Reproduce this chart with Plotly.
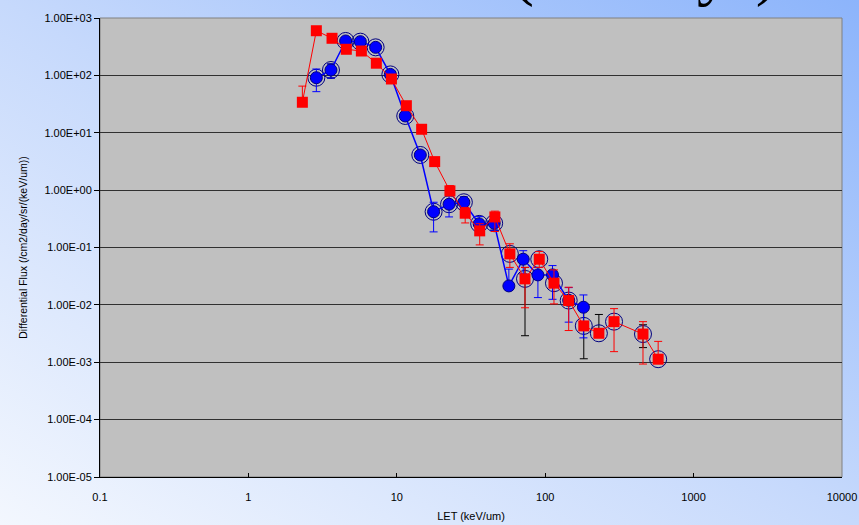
import base64
import plotly.graph_objects as go

# ---------------- data ----------------
red_x = [2.31, 2.87, 3.66, 4.57, 5.77, 7.28, 9.2, 11.6, 14.7, 18.0, 22.8, 28.9, 36.2, 45.8,
         57.8, 73.1, 91.2, 114.6, 144, 182, 230, 291, 456, 577]
red_y = [34, 600, 443, 285, 266, 163, 86.5, 29.6, 11.5, 3.14, 0.97, 0.396, 0.195, 0.341,
         0.0774, 0.0284, 0.0625, 0.0239, 0.0119, 0.0043, 0.0032, 0.0051, 0.0031, 0.00113]
red_hi = [65, 600, 443, 285, 266, 163, 86.5, 29.6, 11.5, 3.14, 1.2, 0.5, 0.26, 0.43,
          0.116, 0.045, 0.085, 0.0407, 0.0203, 0.0043, 0.0032, 0.0086, 0.0051, 0.00231]
red_lo = [34, 600, 443, 285, 266, 163, 86.5, 29.6, 11.5, 3.14, 0.8, 0.268, 0.111, 0.19,
          0.045, 0.0089, 0.045, 0.0104, 0.00357, 0.0043, 0.0032, 0.00153, 0.00093, 0.00098]

blue_x = [2.87, 3.6, 4.52, 5.68, 7.2, 9.05, 11.4, 14.4, 17.7, 22.5, 28.3, 35.9, 45.3,
          56.9, 71.1, 89.3, 112, 144, 181]
blue_y = [91, 124, 398, 387, 308, 104, 19.6, 4.1, 0.42, 0.568, 0.615, 0.258, 0.265,
          0.0214, 0.0625, 0.0333, 0.0333, 0.012, 0.0091]
blue_hi = [129, 158, 398, 387, 308, 104, 19.6, 4.1, 0.615, 0.82, 0.77, 0.345, 0.34,
           0.042, 0.088, 0.045, 0.0484, 0.02, 0.0149]
blue_lo = [52, 90, 398, 387, 308, 104, 19.6, 4.1, 0.187, 0.341, 0.5, 0.2, 0.2,
           0.0214, 0.0347, 0.0134, 0.0125, 0.005, 0.00266]

open_x = [2.87, 3.6, 4.52, 5.68, 7.2, 9.05, 11.4, 14.4, 17.7, 22.5, 28.3, 35.9, 45.3,
          57.8, 73.1, 91.2, 114.6, 144, 182, 230, 291, 456, 577]
open_y = [91, 124, 398, 387, 308, 104, 19.6, 4.1, 0.42, 0.568, 0.615, 0.258, 0.265,
          0.0774, 0.0284, 0.0625, 0.0239, 0.0119, 0.0043, 0.0032, 0.0051, 0.0031, 0.00113]
open_hi = [91, 158, 398, 387, 308, 104, 19.6, 4.1, 0.42, 0.568, 0.615, 0.3, 0.3,
           0.0774, 0.045, 0.0625, 0.0239, 0.0119, 0.0091, 0.0068, 0.0051, 0.0045, 0.00113]
open_lo = [91, 90, 398, 387, 308, 104, 19.6, 4.1, 0.42, 0.568, 0.615, 0.2, 0.2,
           0.0774, 0.0029, 0.0625, 0.0239, 0.0119, 0.00115, 0.0032, 0.0051, 0.0018, 0.00113]

y_tickvals = [1e-5, 1e-4, 1e-3, 1e-2, 1e-1, 1e0, 1e1, 1e2, 1e3]
y_ticktext = ["1.00E-05", "1.00E-04", "1.00E-03", "1.00E-02", "1.00E-01",
              "1.00E+00", "1.00E+01", "1.00E+02", "1.00E+03"]
x_tickvals = [0.1, 1, 10, 100, 1000, 10000]
x_ticktext = ["0.1", "1", "10", "100", "1000", "10000"]

title_text = "(All days)"
x_title = "LET (keV/um)"
y_title = "Differential Flux (/cm2/day/sr/(keV/um))"


def plus(y, hi):
    return [h - v for v, h in zip(y, hi)]


def minus(y, lo):
    return [v - l for v, l in zip(y, lo)]


W, H = 859, 525
L, R, T, B = 100, 17, 18, 48
pw, ph = W - L - R, H - T - B

svg = ("<svg xmlns='http://www.w3.org/2000/svg' width='859' height='525'>"
       "<defs><linearGradient id='g' x1='0' y1='1' x2='1' y2='0'>"
       "<stop offset='0' stop-color='#f3f7fe'/><stop offset='0.5' stop-color='#c6d9fc'/>"
       "<stop offset='1' stop-color='#8cb4fb'/></linearGradient></defs>"
       "<rect width='859' height='525' fill='url(#g)'/></svg>")
src = "data:image/svg+xml;base64," + base64.b64encode(svg.encode()).decode()

fig = go.Figure()

fig.add_trace(go.Scatter(
    x=open_x, y=open_y, mode="markers",
    marker=dict(symbol="circle-open", size=17, color="#000080", line=dict(width=1, color="#000080")),
    error_y=dict(type="data", symmetric=False, array=plus(open_y, open_hi),
                 arrayminus=minus(open_y, open_lo), color="black", thickness=1, width=4),
    showlegend=False))

fig.add_trace(go.Scatter(
    x=blue_x, y=blue_y, mode="lines+markers",
    line=dict(color="#0000FF", width=1.5),
    marker=dict(symbol="circle", size=12, color="#0000FF", line=dict(width=1, color="#000080")),
    error_y=dict(type="data", symmetric=False, array=plus(blue_y, blue_hi),
                 arrayminus=minus(blue_y, blue_lo), color="#0000FF", thickness=1, width=4),
    showlegend=False))

fig.add_trace(go.Scatter(
    x=red_x, y=red_y, mode="lines+markers",
    line=dict(color="#FF0000", width=1),
    marker=dict(symbol="square", size=11, color="#FF0000", line=dict(width=0)),
    error_y=dict(type="data", symmetric=False, array=plus(red_y, red_hi),
                 arrayminus=minus(red_y, red_lo), color="#FF0000", thickness=1, width=4),
    showlegend=False))

fig.update_layout(
    width=W, height=H,
    margin=dict(l=L, r=R, t=T, b=B, pad=0, autoexpand=False),
    paper_bgcolor="#c6d9fc",
    plot_bgcolor="rgba(0,0,0,0)",
    font=dict(family="Liberation Sans, Arial", size=11, color="black"),
    images=[dict(source=src, xref="paper", yref="paper",
                 x=-L / pw, y=1 + T / ph, sizex=W / pw, sizey=H / ph,
                 sizing="stretch", xanchor="left", yanchor="top", layer="below")],
    shapes=[dict(type="rect", xref="paper", yref="paper", x0=0, y0=0, x1=1, y1=1,
                 fillcolor="#C0C0C0", line=dict(color="#808080", width=1), layer="below")],
    annotations=[dict(text=title_text, xref="paper", yref="paper", x=(645 - L) / pw, y=1 + 8 / ph,
                      xanchor="center", yanchor="bottom", showarrow=False,
                      font=dict(family="Liberation Serif", size=66, color="black"))],
    xaxis=dict(type="log", range=[-1, 4], tickvals=x_tickvals, ticktext=x_ticktext,
               automargin=False, ticklabeloverflow="allow",
               showgrid=False, zeroline=False, showline=True, linecolor="black", linewidth=1,
               ticks="inside", ticklen=4, tickcolor="black", ticklabelstandoff=10,
               title=dict(text=x_title, font=dict(size=11), standoff=10),
               tickfont=dict(size=11)),
    yaxis=dict(type="log", range=[-5, 3], tickvals=y_tickvals, ticktext=y_ticktext,
               automargin=False,
               showgrid=True, gridcolor="#303030", gridwidth=1, zeroline=False,
               showline=True, linecolor="black", linewidth=1,
               ticks="outside", ticklen=5, tickcolor="black",
               title=dict(text=y_title, font=dict(size=10.5), standoff=14),
               tickfont=dict(size=11)),
)

fig.write_html("out.html", config={"displayModeBar": False},
               post_script="document.body.style.margin='0';document.body.style.padding='0';"
                           "window.dispatchEvent(new Event('resize'));")
